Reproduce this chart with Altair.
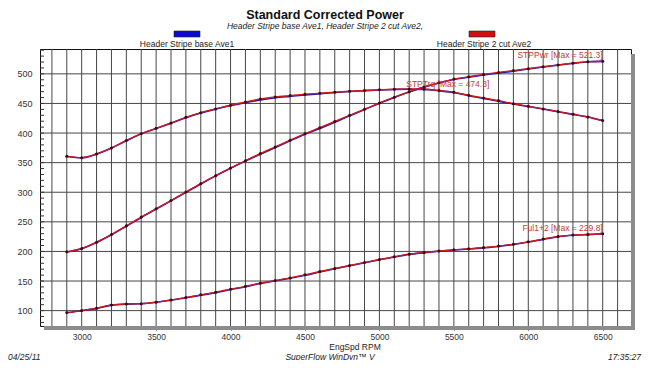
import altair as alt
import pandas as pd

# ---------------- data ----------------
rpm = [2900, 3000, 3100, 3200, 3300, 3400, 3500, 3600, 3700, 3800,
       3900, 4000, 4100, 4200, 4300, 4400, 4500, 4600, 4700, 4800,
       4900, 5000, 5100, 5200, 5300, 5400, 5500, 5600, 5700, 5800,
       5900, 6000, 6100, 6200, 6300, 6400, 6500]

trq_cut = [360.6, 358.4, 364.6, 374.8, 387.6, 399.0, 408.0, 417.0, 426.6, 434.5,
           440.8, 447.0, 452.4, 457.5, 461.0, 463.3, 465.5, 467.2, 469.0, 470.6,
           471.8, 473.0, 473.9, 474.3, 474.0, 471.8, 468.9, 463.8, 459.4, 454.8,
           449.7, 445.2, 440.8, 436.2, 431.7, 427.2, 421.2]
trq_base = [360.4, 358.2, 364.4, 374.6, 387.0, 398.6, 407.6, 416.6, 426.0, 434.0,
            440.4, 446.4, 451.2, 455.8, 459.5, 462.0, 464.4, 466.4, 468.4, 470.2,
            471.6, 472.8, 473.6, 474.1, 473.8, 471.4, 468.4, 463.0, 458.6, 453.8,
            449.0, 444.8, 440.6, 436.0, 431.5, 427.0, 421.0]

pwr_cut = [199.3, 204.9, 215.5, 228.5, 243.3, 258.0, 272.0, 286.0, 300.3, 314.4,
           328.0, 340.8, 353.3, 365.3, 376.5, 388.0, 399.0, 409.0, 419.5, 430.0,
           440.1, 450.8, 460.6, 469.6, 478.0, 485.0, 491.2, 495.0, 499.0, 502.5,
           505.5, 508.8, 512.0, 515.0, 518.0, 520.6, 521.3]
pwr_base = [199.1, 204.7, 215.3, 228.2, 242.6, 257.4, 271.6, 285.4, 299.8, 314.0,
            327.6, 340.4, 352.6, 364.2, 375.6, 387.0, 398.0, 407.8, 418.2, 429.2,
            439.6, 450.4, 460.2, 469.4, 477.6, 484.6, 490.6, 494.2, 498.0, 501.4,
            504.6, 508.2, 511.6, 514.7, 517.8, 520.4, 521.1]

fuel_cut = [96.6, 100.0, 104.0, 109.6, 111.3, 111.8, 114.2, 118.0, 122.0, 126.6,
            131.0, 136.2, 141.0, 146.4, 150.8, 155.3, 160.4, 166.0, 171.1, 176.2,
            181.2, 186.3, 190.9, 195.4, 198.1, 200.6, 202.7, 204.4, 206.6, 209.0,
            212.3, 216.2, 220.8, 225.2, 227.6, 228.6, 229.8]
fuel_base = [96.4, 99.8, 103.8, 109.2, 111.0, 111.6, 114.0, 117.6, 121.6, 126.0,
             130.4, 135.6, 140.4, 145.8, 150.2, 154.6, 159.6, 165.2, 170.6, 175.8,
             180.8, 186.0, 190.6, 195.0, 197.8, 200.3, 202.4, 204.0, 206.0, 208.4,
             211.8, 215.8, 220.4, 224.8, 227.2, 228.4, 229.6]

runs = ["Header Stripe base Ave1", "Header Stripe 2 cut Ave2"]
run_colors = ["#1414c8", "#d01818"]

x_grid = [2800, 2900, 3000, 3100, 3200, 3300, 3400, 3500, 3600, 3700, 3800,
          3900, 4000, 4100, 4200, 4300, 4400, 4500, 4600, 4700, 4800, 4900,
          5000, 5100, 5200, 5300, 5400, 5500, 5600, 5700, 5800, 5900, 6000,
          6100, 6200, 6300, 6400, 6500, 6600]
x_labels = [3000, 3500, 4000, 4500, 5000, 5500, 6000, 6500]
y_grid = [100, 150, 200, 250, 300, 350, 400, 450, 500]
y_minor = [80, 90, 100, 110, 120, 130, 140, 150, 160, 170, 180, 190, 200,
           210, 220, 230, 240, 250, 260, 270, 280, 290, 300, 310, 320, 330,
           340, 350, 360, 370, 380, 390, 400, 410, 420, 430, 440, 450, 460,
           470, 480, 490, 500, 510, 520, 530, 540]

ann_text = ["STPPwr [Max = 521.3]", "Ful1+2 [Max = 229.8]", "STPTrq [Max = 474.3]"]
ann_rpm = [6500, 6500, 5180]
ann_val = [521.3, 229.8, 474.3]

# ---------------- tables ----------------
def long(run, series):
    rows = []
    for metric, vals in series.items():
        for r, v in zip(rpm, vals):
            rows.append({"run": run, "metric": metric, "rpm": r, "value": v})
    return pd.DataFrame(rows)

df_base = long(runs[0], {"STPTrq": trq_base, "STPPwr": pwr_base, "Ful1+2": fuel_base})
df_cut = long(runs[1], {"STPTrq": trq_cut, "STPPwr": pwr_cut, "Ful1+2": fuel_cut})
df_xg = pd.DataFrame({"rpm": x_grid})
df_yg = pd.DataFrame({"value": y_grid})
df_ym = pd.DataFrame({"value": y_minor})
df_ann = pd.DataFrame({"rpm": ann_rpm, "value": ann_val, "text": ann_text})
one = pd.DataFrame({"a": [0]})

W, H = 591, 277
FONT = "Liberation Sans"
xs = alt.Scale(domain=[2720, 6690], nice=False, zero=False)
ys = alt.Scale(domain=[74, 542], nice=False, zero=False)

XAX = alt.Axis(values=x_labels, grid=False, domain=False, tickSize=4,
               tickColor="#222", labelFont=FONT, labelFontSize=8.5,
               labelColor="#333", labelPadding=2, format="d", title=None)
YAX = alt.Axis(values=y_grid, grid=False, domain=False, ticks=False,
               labelFont=FONT, labelFontSize=9, labelColor="#333",
               labelPadding=8, title=None)

def X(field="rpm"):
    return alt.X(f"{field}:Q", scale=xs, axis=XAX, title=None)

def Y(field="value"):
    return alt.Y(f"{field}:Q", scale=ys, axis=YAX, title=None)

GRID = "#474747"

# shadow of the frame
shadow_b = alt.Chart(one).mark_rect(color="#8c8c8c").encode(
    x=alt.value(4), x2=alt.value(W + 4), y=alt.value(H), y2=alt.value(H + 4))
shadow_r = alt.Chart(one).mark_rect(color="#8c8c8c").encode(
    x=alt.value(W), x2=alt.value(W + 4), y=alt.value(5), y2=alt.value(H + 4))

vgrid = alt.Chart(df_xg).mark_rule(color=GRID, strokeWidth=1).encode(x=X())
hgrid = alt.Chart(df_yg).mark_rule(color=GRID, strokeWidth=1).encode(y=Y())
minor = alt.Chart(df_ym).mark_rule(color="#333", strokeWidth=1).encode(
    y=Y(), x=alt.value(0), x2=alt.value(4))

line_base = alt.Chart(df_base).mark_line(
    interpolate="monotone", strokeWidth=1.6, color=run_colors[0]).encode(
    x=X(), y=Y(), detail="metric:N")
line_cut = alt.Chart(df_cut).mark_line(
    interpolate="monotone", strokeWidth=1.4, color=run_colors[1]).encode(
    x=X(), y=Y(), detail="metric:N")
pts = alt.Chart(df_cut).mark_point(
    filled=True, shape="circle", size=9, color="#3a0a18", opacity=1).encode(
    x=X(), y=Y())

ann_r = alt.Chart(df_ann.iloc[:2]).mark_text(
    align="right", baseline="middle", dy=-6, font=FONT, fontSize=8.5,
    color="#c43a3a").encode(x=X(), y=Y(), text="text:N")
ann_l = alt.Chart(df_ann.iloc[2:]).mark_text(
    align="left", baseline="middle", dy=-5, font=FONT, fontSize=8.5,
    color="#c43a3a").encode(x=X(), y=Y(), text="text:N")

def txt(s, x, y, size=8.5, align="center", weight="normal", style="normal",
        color="#222"):
    return alt.Chart(one).mark_text(
        align=align, baseline="middle", font=FONT, fontSize=size,
        fontWeight=weight, fontStyle=style, color=color).encode(
        x=alt.value(x), y=alt.value(y), text=alt.value(s))

title = txt("Standard Corrected Power", 285, -34.5, size=12.5, weight="bold",
            color="#111")
subtitle = txt("Header Stripe base Ave1, Header Stripe 2 cut Ave2,", 285, -23.5,
               style="italic")
leg_b = alt.Chart(one).mark_rect(color="#0a0ad0", stroke="#222", strokeWidth=0.6).encode(
    x=alt.value(134), x2=alt.value(160), y=alt.value(-18), y2=alt.value(-12))
leg_r = alt.Chart(one).mark_rect(color="#d01010", stroke="#222", strokeWidth=0.6).encode(
    x=alt.value(429), x2=alt.value(455), y=alt.value(-18), y2=alt.value(-12))
leg_bt = txt(runs[0], 147, -5.5)
leg_rt = txt(runs[1], 444, -5.5)
xtitle = txt("EngSpd  RPM", 315, 297.5)
foot_l = txt("04/25/11", -32, 307.5, style="italic", align="left")
foot_c = txt("SuperFlow WinDyn\u2122 V", 290, 307.5, style="italic")
foot_r = txt("17:35:27", 601, 307.5, style="italic", align="right")

chart = alt.layer(
    shadow_b, shadow_r, vgrid, hgrid, minor, line_base, line_cut, pts,
    ann_r, ann_l, title, subtitle, leg_b, leg_r, leg_bt, leg_rt, xtitle,
    foot_l, foot_c, foot_r
).properties(
    width=W, height=H,
    autosize=alt.AutoSizeParams(type="none"),
    padding={"left": 32, "top": 41, "right": 11, "bottom": 34},
    background="white",
).configure_view(stroke="#111", strokeWidth=1, fill="white")

chart.save("out.html", embed_options={"renderer": "svg", "actions": False})
